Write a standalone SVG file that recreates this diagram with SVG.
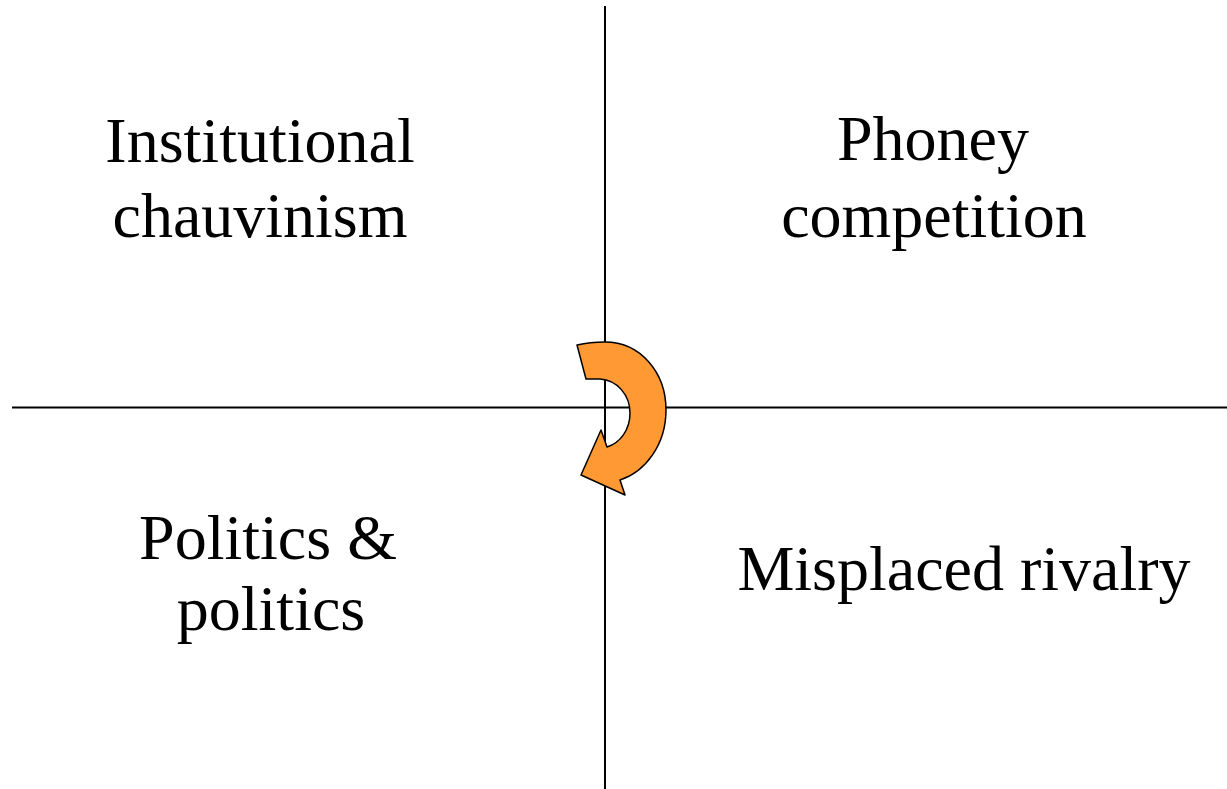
<svg xmlns="http://www.w3.org/2000/svg" width="1227" height="789" viewBox="0 0 1227 789">
<style>
.t{font-family:"Liberation Serif","Times New Roman",serif;font-size:64px;fill:#000;text-anchor:middle}
.ax{stroke:#000;stroke-width:2;fill:none}
</style>
<rect width="1227" height="789" fill="#fff"/>
<g id="connectors">
<line class="ax" x1="605" y1="6" x2="605" y2="789"/>
<line class="ax" x1="12" y1="407.5" x2="1227" y2="407.5"/>
</g>
<g id="cycle-arrow">
<path d="M577,345 Q590,342 605,342 C640,342 666,372 666,410 C666,445 645,472 620,480 L625,495 L581,475 L601,430 L607,447 C620,443 630,430 630,413 C630,395 617,380 600,379 L586,379 Z" fill="#FF9933" stroke="#000" stroke-width="1.5" stroke-linejoin="round"/>
</g>
<g id="q1"><text class="t" x="260" y="162">Institutional</text><text class="t" x="260" y="237">chauvinism</text></g>
<g id="q2"><text class="t" x="933" y="160">Phoney</text><text class="t" x="934" y="237">competition</text></g>
<g id="q3"><text class="t" x="268" y="559">Politics &amp;</text><text class="t" x="271" y="630">politics</text></g>
<g id="q4"><text class="t" x="964" y="590">Misplaced rivalry</text></g>
</svg>
